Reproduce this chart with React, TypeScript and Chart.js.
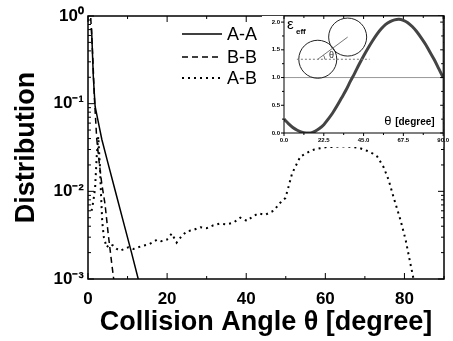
import React, { useEffect, useRef } from "react";
import { Chart, registerables } from "chart.js";
Chart.register(...registerables);

const FONT = "'Liberation Sans', Arial, sans-serif";

// Main chart data (collision angle in degrees vs distribution)
const aaTheta = [0.9, 1.35, 1.8, 2.5, 3.5, 5, 7, 9, 11, 12.7];
const aaValue = [0.72, 0.2, 0.093, 0.065, 0.039, 0.0214, 0.0097, 0.0044, 0.002, 0.001];

const bbTheta = [0.7, 1.2, 1.6, 2.2, 2.8, 3.5, 4.3, 5.1, 6.0, 6.5];
const bbValue = [0.95, 0.35, 0.12, 0.04, 0.022, 0.012, 0.0072, 0.0033, 0.0015, 0.001];

const abTheta = [0.9, 1.35, 1.8, 2.2, 2.6, 3.0, 3.3, 3.6, 4.0, 4.7, 5.5, 6.4, 7.3, 8.1, 9.2, 10.2, 11.5, 12.7, 14.0, 15.5, 17.4, 18.5, 19.9, 21.2, 22.4, 23.7, 25, 26.5, 28.4, 30, 31.7, 33.4, 35, 36.8, 38.5, 40.2, 41.7, 43.1, 44.8, 46.9, 48.6, 49.9, 50.7, 51.6, 52.4, 53.7, 55.7, 57.2, 58.7, 60.3, 62, 63.7, 65.3, 67.1, 68.8, 70.5, 72, 73.1, 74.7, 76, 77.2, 78.1, 79, 80.3, 81.5, 82.3];
const abValue = [0.006, 0.0077, 0.011, 0.025, 0.042, 0.02, 0.009, 0.0045, 0.003, 0.0023, 0.0025, 0.0024, 0.0022, 0.0021, 0.0022, 0.0023, 0.0022, 0.0023, 0.0024, 0.0025, 0.0028, 0.0027, 0.0028, 0.0033, 0.0026, 0.0031, 0.0035, 0.0036, 0.0039, 0.0038, 0.0041, 0.0043, 0.0042, 0.0044, 0.005, 0.0046, 0.0052, 0.0056, 0.0054, 0.006, 0.0074, 0.0084, 0.0113, 0.016, 0.019, 0.025, 0.028, 0.030, 0.031, 0.032, 0.032, 0.0325, 0.0325, 0.032, 0.031, 0.029, 0.027, 0.025, 0.019, 0.0135, 0.0087, 0.0064, 0.0047, 0.0028, 0.0015, 0.001];

const seriesLabels = ["A-A", "B-B", "A-B"];

// Inset data (effective restitution vs angle)
const epsTheta = [0, 2.5, 5, 7.5, 10, 12.5, 15, 17.5, 20, 22.5, 25, 27.5, 30, 32.5, 35, 37.5, 40, 42.5, 45, 47.5, 50, 52.5, 55, 57.5, 60, 62.5, 65, 67.5, 70, 72.5, 75, 77.5, 80, 82.5, 85, 87.5, 90];
const epsValue = [0.25, 0.17, 0.1, 0.05, 0.015, 0.0, 0.0, 0.03, 0.08, 0.15, 0.25, 0.36, 0.49, 0.63, 0.77, 0.93, 1.08, 1.24, 1.39, 1.53, 1.66, 1.78, 1.88, 1.96, 2.01, 2.04, 2.05, 2.03, 1.99, 1.92, 1.83, 1.72, 1.6, 1.46, 1.32, 1.16, 1.0];
const refLineTheta = [0, 90];
const refLineValue = [1, 1];

const SUP: Record<string, string> = { "-": "\u207B", "0": "\u2070", "1": "\u00B9", "2": "\u00B2", "3": "\u00B3" };
const sup = (n: number) => String(n).split("").map((c) => SUP[c] || c).join("");

const toPts = (xs: number[], ys: number[]) => xs.map((x, i) => ({ x, y: ys[i] }));

const mainPlugin = {
  id: "mainDecor",
  afterDraw(chart: any) {
    const { ctx, chartArea, scales } = chart;
    const { left, right, top, bottom } = chartArea;
    const x = scales.x, y = scales.y;
    ctx.save();
    ctx.strokeStyle = "#000";
    ctx.lineWidth = 1.5;
    ctx.strokeRect(left, top, right - left, bottom - top);
    ctx.lineWidth = 1;
    ctx.beginPath();
    for (let v = 0; v <= 90; v += 10) {
      const px = x.getPixelForValue(v);
      const len = v % 20 === 0 ? 6 : 3;
      ctx.moveTo(px, bottom); ctx.lineTo(px, bottom - len);
      ctx.moveTo(px, top); ctx.lineTo(px, top + len);
    }
    for (let e = -3; e <= 0; e++) {
      for (let m = 1; m <= 9; m++) {
        const v = m * Math.pow(10, e);
        if (v > 1.0001) break;
        const py = y.getPixelForValue(v);
        const len = m === 1 ? 6 : 3;
        ctx.moveTo(left, py); ctx.lineTo(left + len, py);
        ctx.moveTo(right, py); ctx.lineTo(right - len, py);
      }
    }
    ctx.stroke();
    // legend
    const lx0 = 182, lx1 = 222;
    const rows = [34, 57, 78];
    chart.data.datasets.forEach((ds: any, i: number) => {
      ctx.save();
      ctx.strokeStyle = ds.borderColor;
      ctx.lineWidth = ds.borderWidth;
      ctx.setLineDash(ds.borderDash || []);
      ctx.beginPath();
      ctx.moveTo(lx0, rows[i]); ctx.lineTo(lx1, rows[i]);
      ctx.stroke();
      ctx.restore();
      ctx.fillStyle = "#000";
      ctx.font = `18px ${FONT}`;
      ctx.textBaseline = "middle";
      ctx.textAlign = "left";
      ctx.fillText(ds.label, 227, rows[i] + 1);
    });
    ctx.restore();
  },
};

const insetPlugin = {
  id: "insetDecor",
  beforeDraw(chart: any) {
    const { ctx, chartArea } = chart;
    const { left, right, top, bottom } = chartArea;
    ctx.save();
    ctx.fillStyle = "#fff";
    ctx.fillRect(left - 22, top, right - left + 22, bottom - top + 14);
    ctx.restore();
  },
  afterDraw(chart: any) {
    const { ctx, chartArea, scales } = chart;
    const { left, right, top, bottom } = chartArea;
    const x = scales.x, y = scales.y;
    ctx.save();
    ctx.strokeStyle = "#000";
    ctx.lineWidth = 1;
    ctx.strokeRect(left, top, right - left, bottom - top);
    ctx.beginPath();
    for (let v = 0; v <= 90.01; v += 11.25) {
      const px = x.getPixelForValue(v);
      const major = Math.abs(v / 22.5 - Math.round(v / 22.5)) < 1e-6;
      const len = major ? 3 : 2;
      ctx.moveTo(px, bottom); ctx.lineTo(px, bottom + len);
      ctx.moveTo(px, top); ctx.lineTo(px, top + len);
    }
    for (let v = 0; v <= 2.001; v += 0.25) {
      const py = y.getPixelForValue(v);
      const major = Math.abs(v * 2 - Math.round(v * 2)) < 1e-6;
      const len = major ? 3 : 2;
      ctx.moveTo(left, py); ctx.lineTo(left - len, py);
      ctx.moveTo(right, py); ctx.lineTo(right - len, py);
    }
    ctx.stroke();

    // diagram of two colliding spheres
    const c1x = x.getPixelForValue(19.1), c1y = y.getPixelForValue(1.33);
    const c2x = x.getPixelForValue(36), c2y = y.getPixelForValue(1.73);
    const r = 19;
    ctx.strokeStyle = "#222";
    ctx.lineWidth = 1;
    ctx.beginPath(); ctx.arc(c1x, c1y, r, 0, Math.PI * 2); ctx.stroke();
    ctx.beginPath(); ctx.arc(c2x, c2y, r, 0, Math.PI * 2); ctx.stroke();
    ctx.strokeStyle = "#777";
    ctx.beginPath(); ctx.moveTo(c1x, c1y); ctx.lineTo(c2x, c2y); ctx.stroke();
    ctx.setLineDash([2, 2]);
    ctx.beginPath();
    ctx.moveTo(x.getPixelForValue(7.3), c1y); ctx.lineTo(x.getPixelForValue(48.4), c1y);
    ctx.stroke();
    ctx.setLineDash([]);
    const ang = Math.atan2(c2y - c1y, c2x - c1x);
    ctx.beginPath(); ctx.arc(c1x, c1y, 7, ang, 0); ctx.stroke();
    ctx.fillStyle = "#222";
    ctx.font = `9px ${FONT}`;
    ctx.textBaseline = "middle";
    ctx.textAlign = "center";
    ctx.fillText("\u03B8", x.getPixelForValue(26.8), y.getPixelForValue(1.39));

    // labels
    ctx.fillStyle = "#000";
    ctx.textAlign = "left";
    ctx.textBaseline = "alphabetic";
    ctx.font = `15px ${FONT}`;
    ctx.fillText("\u03B5", left + 3, top + 13);
    ctx.font = `bold 8px ${FONT}`;
    ctx.fillText("eff", left + 12, top + 18);
    ctx.font = `13px ${FONT}`;
    ctx.fillText("\u03B8", right - 59, bottom - 8);
    ctx.font = `bold 10px ${FONT}`;
    ctx.fillText("[degree]", right - 48, bottom - 8);
    ctx.restore();
  },
};

export default function App() {
  const mainRef = useRef<HTMLCanvasElement>(null);
  const insetRef = useRef<HTMLCanvasElement>(null);

  useEffect(() => {
    document.body.style.margin = "0";
    const styles = [
      { borderColor: "#000", borderWidth: 1.5, borderDash: [] as number[] },
      { borderColor: "#000", borderWidth: 1.5, borderDash: [6, 4] },
      { borderColor: "#000", borderWidth: 2, borderDash: [2, 4] },
    ];
    const series = [
      toPts(aaTheta, aaValue),
      toPts(bbTheta, bbValue),
      toPts(abTheta, abValue),
    ];
    const main = new Chart(mainRef.current!, {
      type: "line",
      data: {
        datasets: series.map((d, i) => ({
          label: seriesLabels[i],
          data: d,
          ...styles[i],
          pointRadius: 0,
          fill: false,
          tension: 0,
        })),
      },
      options: {
        responsive: false,
        animation: false,
        layout: { padding: { top: 16, right: 9, left: 0, bottom: 0 } },
        plugins: { legend: { display: false }, tooltip: { enabled: false } },
        scales: {
          x: {
            type: "linear",
            min: 0,
            max: 90,
            ticks: {
              stepSize: 20,
              includeBounds: false,
              padding: 10,
              color: "#000",
              font: { family: FONT, size: 17, weight: "bold" },
            },
            grid: { display: false, drawTicks: false },
            border: { display: false },
            title: {
              display: true,
              text: "Collision Angle \u03B8 [degree]",
              color: "#000",
              font: { family: FONT, size: 27, weight: "bold" },
              padding: { top: 0, bottom: 2 },
            },
            afterFit: (s: any) => { s.height = 62; },
          },
          y: {
            type: "logarithmic",
            min: 0.001,
            max: 1,
            ticks: {
              autoSkip: false,
              padding: 4,
              color: "#000",
              font: { family: FONT, size: 17, weight: "bold" },
              callback: (v: any) => {
                const e = Math.log10(Number(v));
                return Math.abs(e - Math.round(e)) < 1e-6 ? "10" + sup(Math.round(e)) : "";
              },
            },
            grid: { display: false, drawTicks: false },
            border: { display: false },
            title: {
              display: true,
              text: "Distribution",
              color: "#000",
              font: { family: FONT, size: 27, weight: "bold" },
              padding: { top: 10, bottom: 0 },
            },
            afterFit: (s: any) => { s.width = 88; },
          },
        },
      } as any,
      plugins: [mainPlugin],
    });

    const inset = new Chart(insetRef.current!, {
      type: "line",
      data: {
        datasets: [
          {
            label: "eps",
            data: toPts(epsTheta, epsValue),
            borderColor: "#444",
            borderWidth: 3,
            pointRadius: 0,
            tension: 0.3,
          },
          {
            label: "ref",
            data: toPts(refLineTheta, refLineValue),
            borderColor: "#999",
            borderWidth: 1,
            pointRadius: 0,
          },
        ],
      },
      options: {
        responsive: false,
        animation: false,
        layout: { padding: { top: 16, right: 9, left: 0, bottom: 0 } },
        plugins: { legend: { display: false }, tooltip: { enabled: false } },
        scales: {
          x: {
            type: "linear",
            min: 0,
            max: 90,
            ticks: {
              stepSize: 22.5,
              includeBounds: false,
              padding: 4,
              color: "#000",
              font: { family: FONT, size: 6, weight: "bold" },
              callback: (v: any) => Number(v).toFixed(1),
            },
            grid: { display: false, drawTicks: false },
            border: { display: false },
            afterFit: (s: any) => { s.height = 17; },
          },
          y: {
            type: "linear",
            min: 0,
            max: 2.11,
            ticks: {
              stepSize: 0.5,
              includeBounds: false,
              padding: 4,
              color: "#000",
              font: { family: FONT, size: 6, weight: "bold" },
              callback: (v: any) => Number(v).toFixed(1),
            },
            grid: { display: false, drawTicks: false },
            border: { display: false },
            afterFit: (s: any) => { s.width = 22; },
          },
        },
      } as any,
      plugins: [insetPlugin],
    });

    return () => {
      main.destroy();
      inset.destroy();
    };
  }, []);

  return (
    <div style={{ position: "relative", width: 453, height: 341, background: "#fff" }}>
      <canvas ref={mainRef} width={453} height={341} style={{ position: "absolute", left: 0, top: 0 }} />
      <canvas ref={insetRef} width={191} height={150} style={{ position: "absolute", left: 262, top: 0 }} />
    </div>
  );
}
